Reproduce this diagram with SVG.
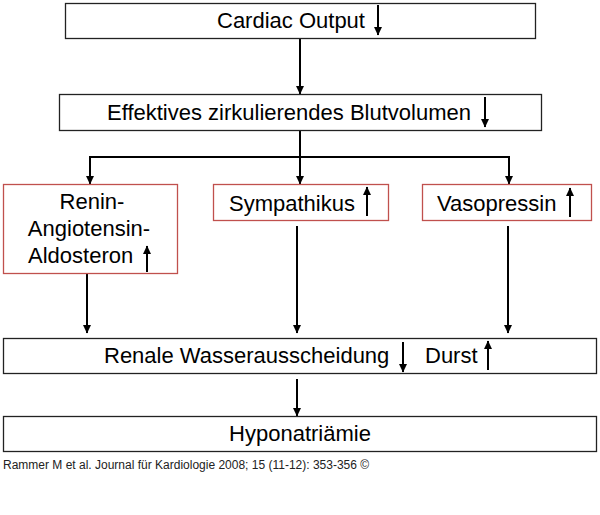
<svg xmlns="http://www.w3.org/2000/svg" width="600" height="515" viewBox="0 0 600 515">
<defs>
<style>
.box{fill:#fff;stroke:#222;stroke-width:1.3}
.rbox{fill:#fff;stroke:#c0504d;stroke-width:1.3}
.t{font-family:"Liberation Sans",Arial,sans-serif;font-size:22px;fill:#000}
.c{text-anchor:middle}
.cite{font-family:"Liberation Sans",Arial,sans-serif;font-size:12px;fill:#222}
.con{stroke:#000;stroke-width:2;fill:none;marker-end:url(#ah)}
.sym{stroke:#000;stroke-width:2;fill:none;marker-end:url(#ah)}
</style>
<marker id="ah" markerWidth="9" markerHeight="9" refX="8" refY="4.5" orient="auto" markerUnits="userSpaceOnUse">
<path d="M0,0.5 L8.5,4.5 L0,8.5 z" fill="#000"/>
</marker>
</defs>
<rect width="600" height="515" fill="#fff"/>
<g id="connectors">
<line class="con" x1="300" y1="38" x2="300" y2="94"/>
<polyline points="300,130 300,157" stroke="#000" stroke-width="2" fill="none"/>
<polyline points="90,157 509,157" stroke="#000" stroke-width="2" fill="none"/>
<line class="con" x1="90" y1="156" x2="90" y2="184"/>
<line class="con" x1="300" y1="156" x2="300" y2="184"/>
<line class="con" x1="509" y1="156" x2="509" y2="184"/>
<line class="con" x1="87" y1="273" x2="87" y2="333"/>
<line class="con" x1="297" y1="226" x2="297" y2="333"/>
<line class="con" x1="508" y1="226" x2="508" y2="333"/>
<line class="con" x1="297" y1="379" x2="297" y2="416"/>
</g>
<g id="cardiac-output">
<rect class="box" x="65.5" y="3.5" width="470" height="35"/>
<text class="t" x="217" y="28">Cardiac Output</text>
<line class="sym" x1="378" y1="5" x2="378" y2="35"/>
</g>
<g id="blutvolumen">
<rect class="box" x="59.5" y="94.5" width="482" height="36"/>
<text class="t" x="107" y="120">Effektives zirkulierendes Blutvolumen</text>
<line class="sym" x1="485" y1="97" x2="485" y2="127"/>
</g>
<g id="raa">
<rect class="rbox" x="3.5" y="184.5" width="174" height="89"/>
<text class="t c" x="92" y="209">Renin-</text>
<text class="t c" x="89" y="236">Angiotensin-</text>
<text class="t" x="28" y="263">Aldosteron</text>
<line class="sym" x1="147" y1="272" x2="147" y2="246"/>
</g>
<g id="sympathikus">
<rect class="rbox" x="213.5" y="184.5" width="175" height="36"/>
<text class="t" x="229" y="211">Sympathikus</text>
<line class="sym" x1="367" y1="216" x2="367" y2="187"/>
</g>
<g id="vasopressin">
<rect class="rbox" x="422.5" y="184.5" width="169" height="36"/>
<text class="t" x="437" y="211">Vasopressin</text>
<line class="sym" x1="570" y1="217" x2="570" y2="188"/>
</g>
<g id="renale">
<rect class="box" x="3.5" y="338.5" width="593" height="35"/>
<text class="t" x="104" y="363">Renale Wasserausscheidung</text>
<line class="sym" x1="403" y1="342" x2="403" y2="372"/>
<text class="t" x="425" y="363">Durst</text>
<line class="sym" x1="488" y1="370" x2="488" y2="341"/>
</g>
<g id="hyponatriaemie">
<rect class="box" x="3.5" y="416.5" width="593" height="35"/>
<text class="t c" x="300" y="441">Hyponatriämie</text>
</g>
<text class="cite" x="3" y="469">Rammer M et al. Journal für Kardiologie 2008; 15 (11-12): 353-356 ©</text>
</svg>
